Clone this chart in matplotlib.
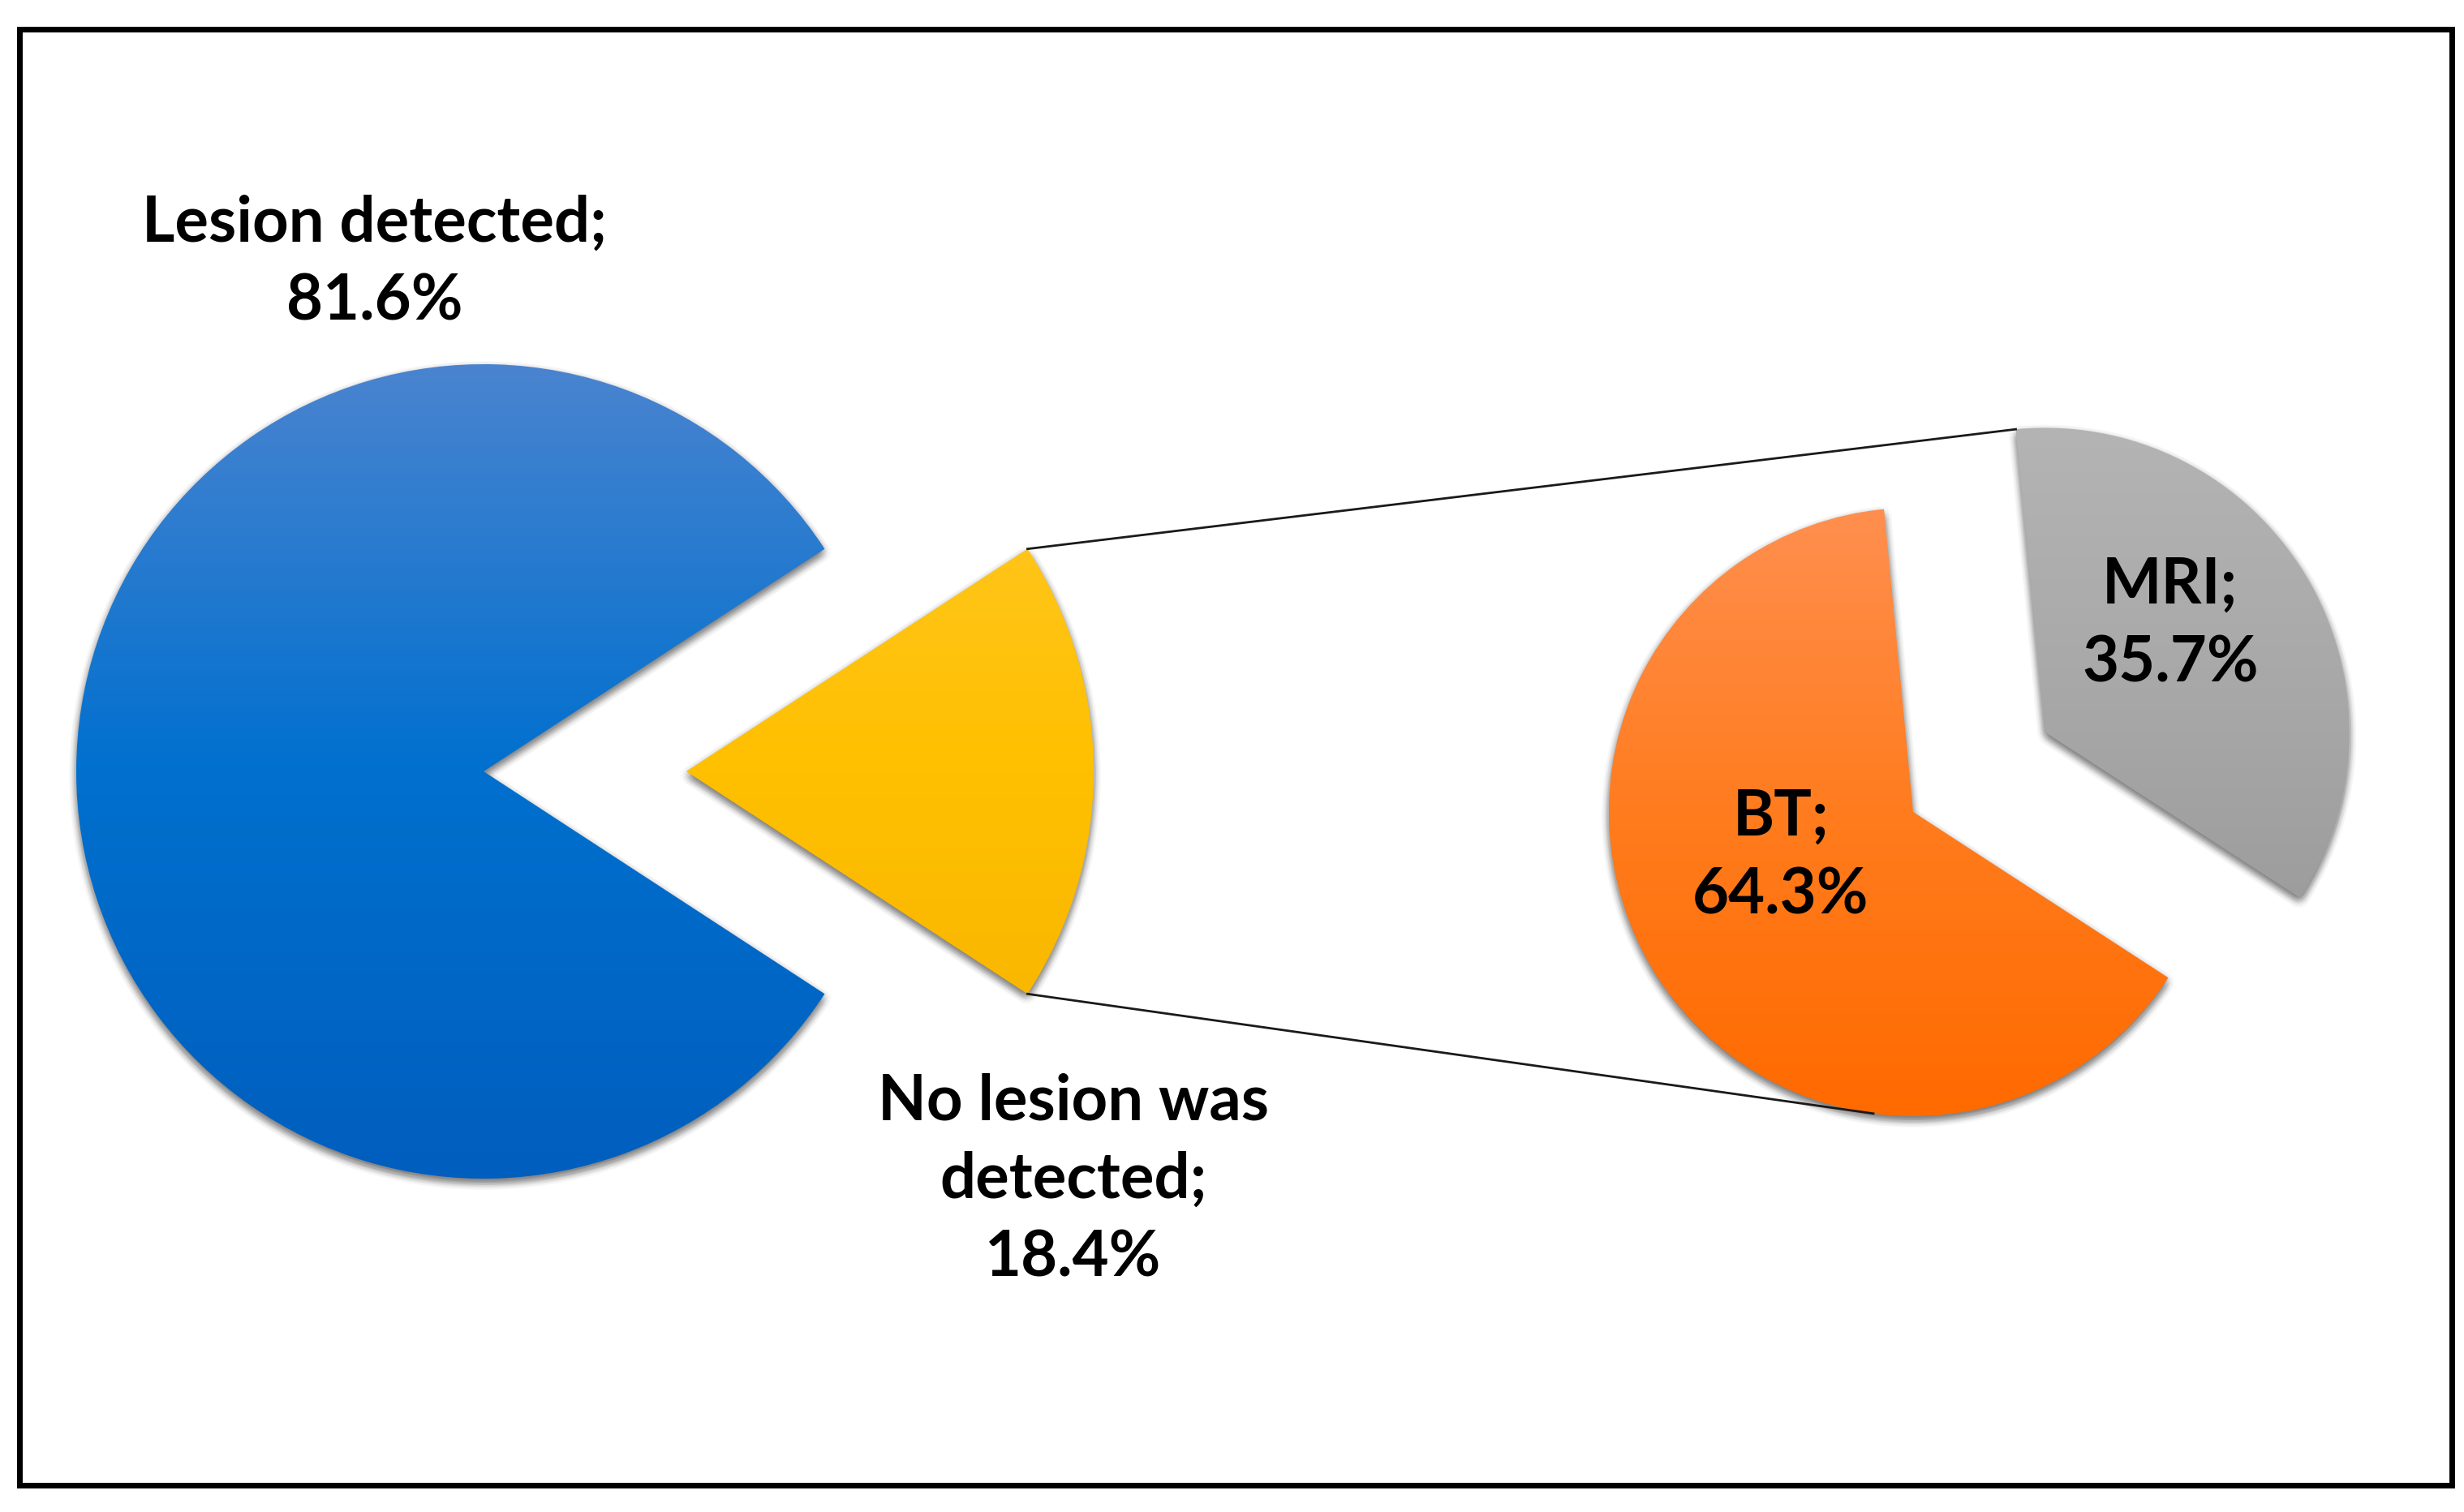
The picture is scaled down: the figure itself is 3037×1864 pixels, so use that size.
import numpy as np
import matplotlib as mpl
mpl.use('Agg')
import matplotlib.pyplot as plt
from matplotlib.patches import Wedge, Rectangle

W, H = 3037, 1864

# data
main_labels = ['Lesion detected;\n81.6%', 'No lesion was\ndetected;\n18.4%']
main_values = [81.6, 18.4]
sub_labels = ['BT;\n64.3%', 'MRI;\n35.7%']
sub_values = [64.3, 35.7]

# colours (top, middle, bottom) of the vertical gradients
main_grads = [((74, 132, 208), (0, 112, 206), (0, 94, 190)),
              ((255, 200, 45), (255, 192, 0), (245, 176, 0))]
sub_grads = [((255, 143, 79), (255, 124, 30), (255, 106, 0)),
             ((180, 180, 180), (166, 166, 166), (150, 150, 150))]

plt.rcParams['font.family'] = ['Lato', 'DejaVu Sans']


def gradient_fill(ax, wedges, grads, radius):
    for w, stops in zip(wedges, grads):
        cx, cy = w.center
        t1, t2 = w.theta1, w.theta2
        # soft shadow
        for ring in (9, 6, 3):
            for a in np.linspace(0, 2 * np.pi, 12, endpoint=False):
                sh = Wedge((cx + ring * np.cos(a), cy - 5 + ring * np.sin(a)),
                           radius, t1, t2, fc='k', alpha=0.018, lw=0, zorder=1)
                ax.add_patch(sh)
        stops = np.array(stops) / 255.0
        t = np.linspace(0, 1, 256)
        img = np.stack([np.interp(t, [0, 0.5, 1], stops[:, k])
                        for k in range(3)], axis=-1)[:, None, :]
        im = ax.imshow(img, extent=(cx - radius, cx + radius,
                                    cy - radius, cy + radius),
                       origin='upper', aspect='auto', interpolation='bilinear',
                       zorder=2)
        w.set_facecolor('none')
        w.set_edgecolor('none')
        im.set_clip_path(w)


fig = plt.figure(figsize=(W / 100, H / 100), dpi=100)
ax = fig.add_axes([0, 0, 1, 1])

# main pie
c1, r1 = (596, H - 951), 502
main_explode = [0, 250]
wedges1, _ = ax.pie(main_values, center=c1, radius=r1, explode=main_explode,
                    startangle=main_values[1] * 1.8, counterclock=True,
                    frame=True, wedgeprops=dict(lw=0))
gradient_fill(ax, wedges1, main_grads, r1)

# secondary pie
c2, r2 = (2358, H - 1001), 375
sub_explode = [0, 190]
wedges2, _ = ax.pie(sub_values, center=c2, radius=r2, explode=sub_explode,
                    startangle=95.5, counterclock=True,
                    frame=True, wedgeprops=dict(lw=0))
gradient_fill(ax, wedges2, sub_grads, r2)

# connector lines
yel = wedges1[1]
gry = wedges2[1]
org = wedges2[0]
p_top = (yel.center[0] + r1 * np.cos(np.radians(yel.theta2)),
         yel.center[1] + r1 * np.sin(np.radians(yel.theta2)))
p_bot = (yel.center[0] + r1 * np.cos(np.radians(yel.theta1)),
         yel.center[1] + r1 * np.sin(np.radians(yel.theta1)))
q_top = (gry.center[0] + r2 * np.cos(np.radians(gry.theta2)),
         gry.center[1] + r2 * np.sin(np.radians(gry.theta2)))
q_bot = (org.center[0] + r2 * np.cos(np.radians(-97.5)),
         org.center[1] + r2 * np.sin(np.radians(-97.5)))
ax.plot([p_top[0], q_top[0]], [p_top[1], q_top[1]], color='#1a1a1a', lw=2.0,
        zorder=3)
ax.plot([p_bot[0], q_bot[0]], [p_bot[1], q_bot[1]], color='#1a1a1a', lw=2.0,
        zorder=3)

# labels
fs = 56
txt = dict(fontsize=fs, fontweight='bold', ha='center', va='center',
           color='black', linespacing=1.42, zorder=5)
ax.text(462, H - 324, main_labels[0], **txt)
ax.text(1323, H - 1455, main_labels[1], **txt)
ax.text(2195, H - 1056, sub_labels[0], **txt)
ax.text(2675, H - 770, sub_labels[1], **txt)

# outer frame
ax.add_patch(Rectangle((24, H - 1831), 3022 - 24, 1831 - 36, fill=False,
                       ec='black', lw=5, zorder=6))

ax.set_xlim(0, W)
ax.set_ylim(0, H)
ax.set_aspect('auto')
ax.axis('off')

fig.savefig('out.png', dpi=100, facecolor='white')
plt.close()
